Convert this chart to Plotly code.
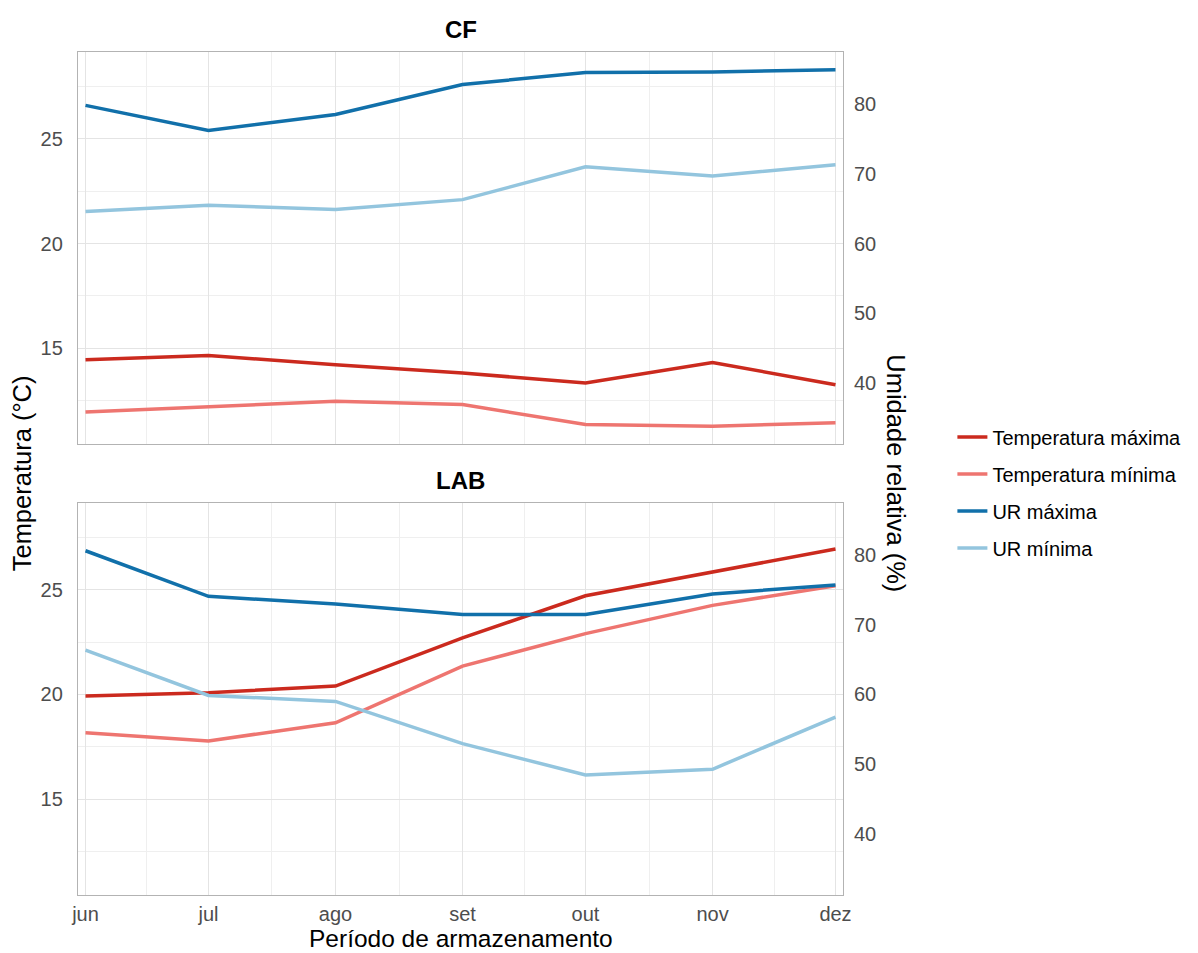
import plotly.graph_objects as go
import pandas as pd

# ---------------- data ----------------
months = ["2022-06-01", "2022-07-01", "2022-08-01", "2022-09-01",
          "2022-10-01", "2022-11-01", "2022-12-01"]
month_labels = ["jun", "jul", "ago", "set", "out", "nov", "dez"]

series_names = ["Temperatura máxima", "Temperatura mínima", "UR máxima", "UR mínima"]

cf_temp_max = [14.45, 14.66, 14.21, 13.82, 13.34, 14.32, 13.26]
cf_temp_min = [11.96, 12.23, 12.47, 12.31, 11.36, 11.28, 11.44]
cf_ur_max = [79.8, 76.2, 78.5, 82.8, 84.5, 84.6, 84.9]
cf_ur_min = [64.6, 65.5, 64.9, 66.3, 71.0, 69.7, 71.3]

lab_temp_max = [19.92, 20.08, 20.40, 22.70, 24.71, 25.84, 26.94]
lab_temp_min = [18.17, 17.78, 18.65, 21.35, 22.90, 24.25, 25.19]
lab_ur_max = [80.57, 74.05, 72.95, 71.43, 71.43, 74.38, 75.67]
lab_ur_min = [66.33, 59.86, 59.00, 52.95, 48.48, 49.29, 56.76]

temp_ticks = [15, 20, 25]
temp_minor = [12.5, 17.5, 22.5, 27.5]
ur_ticks = [40, 50, 60, 70, 80]
UR_FACTOR = 3  # secondary axis: UR = 3 * temperatura

colors = ["#CB2A1E", "#EE7570", "#1170AA", "#93C5DE"]

# ---------------- scales ----------------
dates = pd.to_datetime(months)
span = dates[-1] - dates[0]
x_range = [dates[0] - span * 0.01, dates[-1] + span * 0.01]
minor_x = [dates[i] + (dates[i + 1] - dates[i]) / 2 for i in range(len(dates) - 1)]

all_temp = cf_temp_max + cf_temp_min + lab_temp_max + lab_temp_min
all_ur = [v / UR_FACTOR for v in cf_ur_max + cf_ur_min + lab_ur_max + lab_ur_min]
lo = min(all_temp + all_ur)
hi = max(all_temp + all_ur)
pad = (hi - lo) * 0.05
y_range = [lo - pad, hi + pad]
y2_range = [y_range[0] * UR_FACTOR, y_range[1] * UR_FACTOR]

FONT = "Liberation Sans, Arial, sans-serif"
TICK_COLOR = "#4D4D4D"
GRID = "#E4E4E4"
GRID_MINOR = "#EFEFEF"
BORDER = "#B3B3B3"

fig = go.Figure()

panels = [
    ("x2", "y3", "y4", cf_temp_max, cf_temp_min, cf_ur_max, cf_ur_min, True),
    ("x", "y", "y2", lab_temp_max, lab_temp_min, lab_ur_max, lab_ur_min, False),
]
for xa, yt, yu, tmax, tmin, umax, umin, show in panels:
    vals = [(tmax, yt), (tmin, yt), (umax, yu), (umin, yu)]
    for i, (v, ya) in enumerate(vals):
        fig.add_trace(go.Scatter(
            x=dates, y=v, mode="lines", name=series_names[i],
            line=dict(color=colors[i], width=3.5),
            xaxis=xa, yaxis=ya, showlegend=show, legendgroup=series_names[i],
        ))

xcommon = dict(
    type="date", range=x_range, tickvals=dates, ticktext=month_labels,
    showgrid=True, gridcolor=GRID, gridwidth=1.3,
    minor=dict(tickvals=minor_x, showgrid=True, gridcolor=GRID_MINOR, gridwidth=1),
    showline=True, mirror=True, linecolor=BORDER, linewidth=1.3,
    ticks="", zeroline=False,
    tickfont=dict(family=FONT, size=20, color=TICK_COLOR),
)
ycommon = dict(
    range=y_range, tickvals=temp_ticks,
    showgrid=True, gridcolor=GRID, gridwidth=1.3,
    minor=dict(tickvals=temp_minor, showgrid=True, gridcolor=GRID_MINOR, gridwidth=1),
    showline=True, mirror=True, linecolor=BORDER, linewidth=1.3,
    ticks="", zeroline=False, ticklabelstandoff=10,
    tickfont=dict(family=FONT, size=20, color=TICK_COLOR),
)
urcommon = dict(
    range=y2_range, tickvals=ur_ticks, side="right",
    showgrid=False, zeroline=False, showline=False, ticks="",
    ticklabelstandoff=10,
    tickfont=dict(family=FONT, size=20, color=TICK_COLOR),
)

top_dom = [0.535, 1.0]
bot_dom = [0.0, 0.4654]

fig.update_layout(
    width=1198, height=953,
    margin=dict(l=78, r=351, t=52, b=58),
    paper_bgcolor="white", plot_bgcolor="white",
    font=dict(family=FONT, color="black"),
    xaxis=dict(**xcommon, anchor="y", domain=[0, 1], ticklabelstandoff=1),
    xaxis2=dict(**xcommon, anchor="y3", domain=[0, 1], matches="x", showticklabels=False),
    yaxis=dict(**ycommon, anchor="x", domain=bot_dom),
    yaxis2=dict(**urcommon, anchor="x", overlaying="y"),
    yaxis3=dict(**ycommon, anchor="x2", domain=top_dom),
    yaxis4=dict(**urcommon, anchor="x2", overlaying="y3"),
    showlegend=True,
    legend=dict(
        x=1.143, xanchor="left", y=0.4775, yanchor="middle",
        font=dict(family=FONT, size=20, color="black"),
        bgcolor="rgba(0,0,0,0)", borderwidth=0,
        tracegroupgap=8, itemwidth=30,
    ),
)

annotations = [
    dict(text="<b>CF</b>", x=0.5, y=1.0267, yanchor="middle", font=dict(size=24)),
    dict(text="<b>LAB</b>", x=0.5, y=0.4917, yanchor="middle", font=dict(size=24)),
    dict(text="Período de armazenamento", x=0.5, y=-0.0686, yanchor="bottom",
         borderpad=0, font=dict(size=24.5)),
    dict(text="Temperatura (°C)", x=-0.0728, y=0.5006, yanchor="middle", textangle=-90, font=dict(size=25.5)),
    dict(text="Umidade relativa (%)", x=1.0689, y=0.5006, yanchor="middle", textangle=90, font=dict(size=25.5)),
]
for a in annotations:
    a["font"].update(family=FONT, color="black")
    fig.add_annotation(xref="paper", yref="paper", xanchor="center",
                       showarrow=False, **a)

fig.write_html("out.html")
